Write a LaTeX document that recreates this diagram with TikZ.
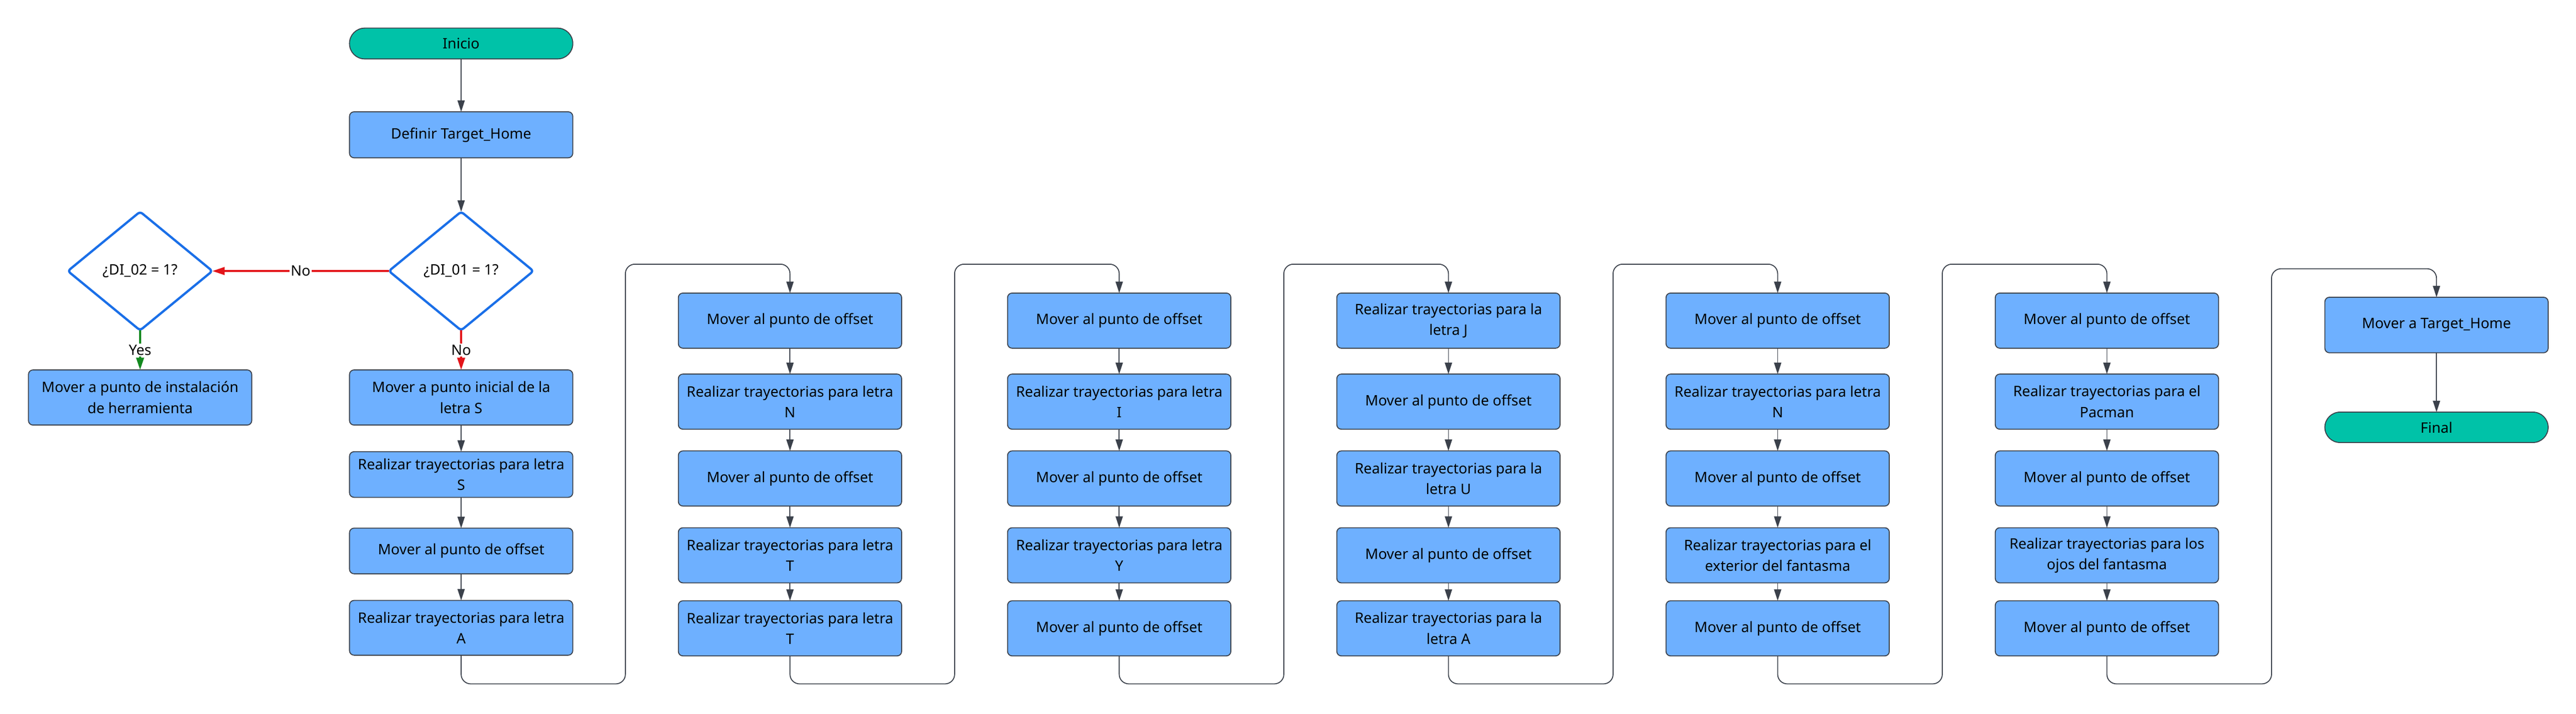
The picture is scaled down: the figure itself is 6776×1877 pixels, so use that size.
\documentclass[tikz,border=0pt]{standalone}
\usepackage{fontspec}
\setmainfont{Noto Sans}
\usetikzlibrary{positioning, shapes.geometric, arrows.meta}

\definecolor{boxblue}{HTML}{6EB0FF}
\definecolor{termgreen}{HTML}{00C2A8}
\definecolor{linegray}{HTML}{3B414B}
\definecolor{decblue}{HTML}{1A6FE8}
\definecolor{nored}{HTML}{E3151A}
\definecolor{yesgreen}{HTML}{13891F}

\begin{document}
\begin{tikzpicture}[x=0.01cm, y=-0.01cm,
    every node/.style={font=\fontsize{10.8}{15.6}\selectfont},
    main/.style={draw=linegray, line width=0.025cm, fill=boxblue, rounded corners=0.12cm,
        minimum width=5.87cm, minimum height=1.45cm, align=center, inner sep=0pt, outer sep=0pt},
    term/.style={main, fill=termgreen, rounded corners=0.4cm, minimum height=0.81cm},
    cond/.style={diamond, draw=decblue, line width=0.06cm, fill=white, rounded corners=0.08cm,
        minimum width=3.8cm, minimum height=3.12cm, inner sep=0pt, outer sep=0pt},
    flow/.style={draw=linegray, line width=0.025cm, -{Triangle[length=0.3cm, width=0.19cm]}},
    every edge/.style={flow},
    jump/.style={flow, rounded corners=0.25cm},
    nolink/.style={draw=nored, line width=0.05cm, -{Triangle[length=0.32cm, width=0.2cm]}},
    yeslink/.style={nolink, draw=yesgreen},
    lab/.style={fill=white, inner sep=1pt}]

    \useasboundingbox (0,0) rectangle (6776,1877);

    % start and the two checks
    \node[term] (1) at (1213,114.5) {Inicio};
    \node[main, minimum height=1.21cm] (2) [below=1.39cm of 1] {Definir Target\_Home};
    \node[cond] at (1213,713) (3) {¿DI\_01 = 1?};
    \node[cond] at (368.5,713) (4) {¿DI\_02 = 1?};
    \node[main] (5) [below=1.04cm of 4] {Mover a punto de instalación\\de herramienta};

    % letras S, A
    \node[main] (6) [below=1.04cm of 3] {Mover a punto inicial de la\\letra S};
    \node[main, minimum height=1.2cm] (7) [below=0.7cm of 6] {Realizar trayectorias para letra\\S};
    \node[main, minimum height=1.2cm] (8) [below=0.81cm of 7] {Mover al punto de offset};
    \node[main, minimum height=1.44cm] (9) [below=0.7cm of 8] {Realizar trayectorias para letra\\A};

    % letras N, T, T
    \node[main] at (2078,843.5) (10) {Mover al punto de offset};
    \node[main] (11) [below=0.68cm of 10] {Realizar trayectorias para letra\\N};
    \node[main] (12) [below=0.57cm of 11] {Mover al punto de offset};
    \node[main] (13) [below=0.57cm of 12] {Realizar trayectorias para letra\\T};
    \node[main] (14) [below=0.47cm of 13] {Realizar trayectorias para letra\\T};

    % letras I, Y
    \node[main] at (2944,843.5) (15) {Mover al punto de offset};
    \node[main] (16) [below=0.68cm of 15] {Realizar trayectorias para letra\\I};
    \node[main] (17) [below=0.57cm of 16] {Mover al punto de offset};
    \node[main] (18) [below=0.57cm of 17] {Realizar trayectorias para letra\\Y};
    \node[main] (19) [below=0.47cm of 18] {Mover al punto de offset};

    % letras J, U, A
    \node[main] at (3810,843.5) (20) {Realizar trayectorias para la\\letra J};
    \node[main] (21) [below=0.68cm of 20] {Mover al punto de offset};
    \node[main] (22) [below=0.57cm of 21] {Realizar trayectorias para la\\letra U};
    \node[main] (23) [below=0.57cm of 22] {Mover al punto de offset};
    \node[main] (24) [below=0.47cm of 23] {Realizar trayectorias para la\\letra A};

    % letra N y fantasma
    \node[main] at (4676,843.5) (25) {Mover al punto de offset};
    \node[main] (26) [below=0.68cm of 25] {Realizar trayectorias para letra\\N};
    \node[main] (27) [below=0.57cm of 26] {Mover al punto de offset};
    \node[main] (28) [below=0.57cm of 27] {Realizar trayectorias para el\\exterior del fantasma};
    \node[main] (29) [below=0.47cm of 28] {Mover al punto de offset};

    % Pacman y ojos
    \node[main] at (5542,843.5) (30) {Mover al punto de offset};
    \node[main] (31) [below=0.68cm of 30] {Realizar trayectorias para el\\Pacman};
    \node[main] (32) [below=0.57cm of 31] {Mover al punto de offset};
    \node[main] (33) [below=0.57cm of 32] {Realizar trayectorias para los\\ojos del fantasma};
    \node[main] (34) [below=0.47cm of 33] {Mover al punto de offset};

    % back home
    \node[main, minimum height=1.46cm] at (6409,855) (35) {Mover a Target\_Home};
    \node[term, minimum height=0.8cm] (36) [below=1.56cm of 35] {Final};

    \coordinate (top) at (0,695);
    \coordinate (top7) at (0,707);

    \path
    (1) edge (2)
    (2) edge (3)
    (3) edge[nolink] node[lab] {No} (4)
    (3) edge[nolink] node[lab] {No} (6)
    (4) edge[yeslink] node[lab] {Yes} (5)

    (6) edge (7)
    (7) edge (8)
    (8) edge (9)

    (10) edge (11)
    (11) edge (12)
    (12) edge (13)
    (13) edge (14)

    (15) edge (16)
    (16) edge (17)
    (17) edge (18)
    (18) edge (19)

    (20) edge (21)
    (21) edge (22)
    (22) edge (23)
    (23) edge (24)

    (25) edge (26)
    (26) edge (27)
    (27) edge (28)
    (28) edge (29)

    (30) edge (31)
    (31) edge (32)
    (32) edge (33)
    (33) edge (34)

    (35) edge (36)
    ;

    % column to column
    \draw[jump] (9) |- (1645,1799) |- (10 |- top) -- (10);
    \draw[jump] (14) |- (2511,1799) |- (15 |- top) -- (15);
    \draw[jump] (19) |- (3377,1799) |- (20 |- top) -- (20);
    \draw[jump] (24) |- (4243,1799) |- (25 |- top) -- (25);
    \draw[jump] (29) |- (5109,1799) |- (30 |- top) -- (30);
    \draw[jump] (34) |- (5975,1799) |- (35 |- top7) -- (35);
\end{tikzpicture}
\end{document}
